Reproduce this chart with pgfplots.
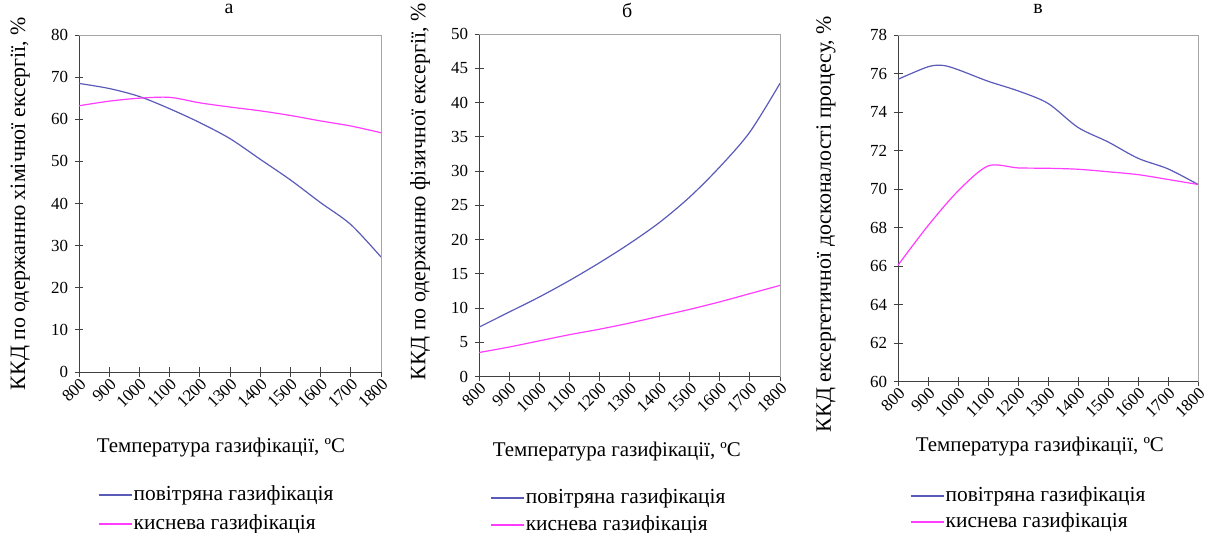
\documentclass[border=0pt]{standalone}
\usepackage{fontspec}
\setmainfont{Liberation Serif}
\usepackage{pgfplots}
\pgfplotsset{compat=1.18}
\definecolor{cblue}{RGB}{90,90,185}
\definecolor{cpink}{RGB}{255,60,255}
\pgfplotsset{
  panel/.style={
    scale only axis,
    clip=false,
    axis lines=left,
    axis line style={-, draw=black!75, line width=0.9bp},
    xmin=800, xmax=1800, xtick={800,900,...,1800},
    tick align=center, major tick length=9bp,
    tick style={black!75, line width=0.9bp},
    /pgf/number format/assume math mode=true,
    /pgf/number format/1000 sep={},
    xticklabel style={rotate=45, anchor=east, font=\fontsize{17}{17}\selectfont, yshift=-6bp, xshift=3bp},
    yticklabel style={font=\fontsize{17}{17}\selectfont, xshift=-3bp},
    xlabel style={font=\fontsize{21}{21}\selectfont},
    ylabel style={font=\fontsize{22}{22}\selectfont},
    title style={font=\fontsize{20}{20}\selectfont, anchor=center},
    legend cell align=left,
    legend image code/.code={\draw[##1, line width=1.5bp] (0bp,0bp) -- (33bp,0bp);},
    legend style={draw=none, fill=none, font=\fontsize{21.5}{21.5}\selectfont, anchor=north west,
      nodes={inner sep=1bp, text height=15bp, text depth=5bp}, row sep=7bp},
    every axis plot/.append style={smooth, tension=0.5, line width=1.2bp, no markers},
  },
}
\begin{document}
\begin{tikzpicture}
\useasboundingbox (0,0) rectangle (1213bp,533bp);
% ---------- panel a ----------
\begin{axis}[panel, at={(79bp,161bp)}, anchor=south west, width=302bp, height=337bp,
  ymin=0, ymax=80, ytick={0,10,...,80},
  title={а}, title style={at={(axis description cs:0.497,1.059)}},
  xlabel={Температура газифікації, ºС}, xlabel style={at={(axis description cs:0.47,-0.2255)}, anchor=center},
  ylabel={ККД по одержанню хімічної ексергії, \%}, ylabel style={at={(axis description cs:-0.195,0.5)}, anchor=center},
  legend style={at={(axis description cs:0.053,-0.3265)}}]
\addplot[cblue] coordinates {(800,68.5) (900,67.3) (1000,65.4) (1100,62.5) (1200,59.2) (1300,55.4) (1400,50.5) (1500,45.6) (1600,40.2) (1700,35.0) (1800,27.3)};
\addplot[cpink] coordinates {(800,63.2) (900,64.3) (1000,65.0) (1100,65.2) (1200,63.9) (1300,62.9) (1400,62.0) (1500,60.9) (1600,59.6) (1700,58.4) (1800,56.8)};
\legend{повітряна газифікація, киснева газифікація}
\draw[black!35, line width=0.9bp] (rel axis cs:0,1) -- (rel axis cs:1,1) -- (rel axis cs:1,0);
\end{axis}
% ---------- panel b ----------
\begin{axis}[panel, at={(479bp,156.5bp)}, anchor=south west, width=301bp, height=342.5bp,
  ymin=0, ymax=50, ytick={0,5,...,50},
  title={б}, title style={at={(axis description cs:0.492,1.05)}},
  xlabel={Температура газифікації, ºС}, xlabel style={at={(axis description cs:0.458,-0.22)}, anchor=center},
  ylabel={ККД по одержанню фізичної ексергії, \%}, ylabel style={at={(axis description cs:-0.196,0.539)}, anchor=center},
  legend style={at={(axis description cs:0.027,-0.3165)}, row sep=5bp}]
\addplot[cblue] coordinates {(800,7.2) (900,9.4) (1000,11.6) (1100,14.0) (1200,16.6) (1300,19.4) (1400,22.5) (1500,26.2) (1600,30.6) (1700,35.7) (1800,42.8)};
\addplot[cpink] coordinates {(800,3.5) (900,4.3) (1000,5.2) (1100,6.1) (1200,6.9) (1300,7.8) (1400,8.8) (1500,9.8) (1600,10.9) (1700,12.1) (1800,13.3)};
\legend{повітряна газифікація, киснева газифікація}
\draw[black!35, line width=0.9bp] (rel axis cs:0,1) -- (rel axis cs:1,1) -- (rel axis cs:1,0);
\end{axis}
% ---------- panel v ----------
\begin{axis}[panel, at={(898bp,151.3bp)}, anchor=south west, width=300bp, height=346.7bp,
  ymin=60, ymax=78, ytick={60,62,...,78},
  title={в}, title style={at={(axis description cs:0.467,1.058)}},
  xlabel={Температура газифікації, ºС}, xlabel style={at={(axis description cs:0.473,-0.188)}, anchor=center},
  ylabel={ККД ексергетичної досконалості процесу, \%}, ylabel style={at={(axis description cs:-0.24,0.455)}, anchor=center},
  legend style={at={(axis description cs:0.03,-0.292)}, row sep=4bp}]
\addplot[cblue] coordinates {(800,75.7) (900,76.35) (950,76.42) (1000,76.2) (1100,75.6) (1200,75.1) (1300,74.45) (1400,73.2) (1500,72.45) (1600,71.6) (1700,71.05) (1800,70.24)};
\addplot[cpink] coordinates {(800,66.05) (900,68.1) (1000,69.9) (1100,71.2) (1200,71.1) (1300,71.08) (1400,71.03) (1500,70.9) (1600,70.75) (1700,70.5) (1800,70.24)};
\legend{повітряна газифікація, киснева газифікація}
\draw[black!35, line width=0.9bp] (rel axis cs:0,1) -- (rel axis cs:1,1) -- (rel axis cs:1,0);
\end{axis}
\end{tikzpicture}
\end{document}
